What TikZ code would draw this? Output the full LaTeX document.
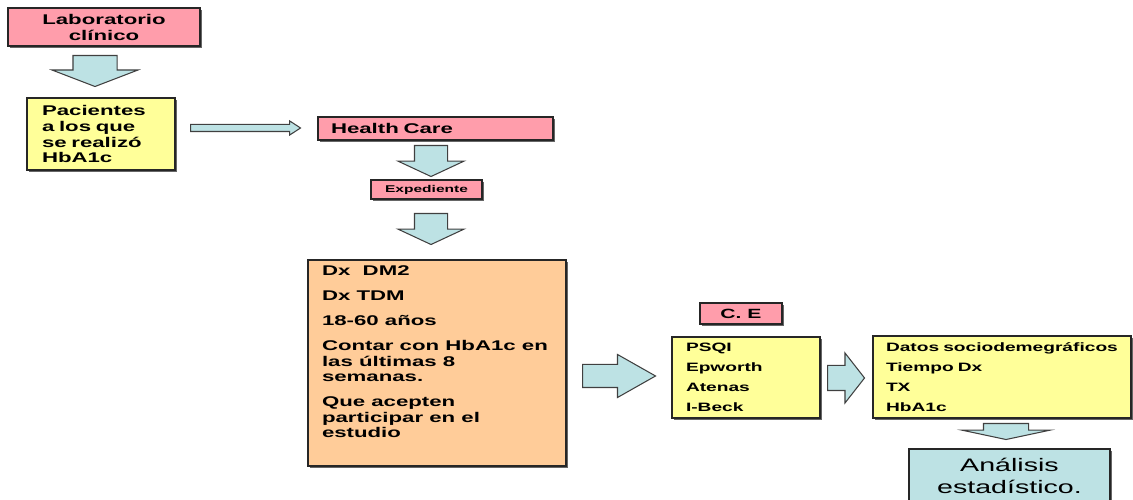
\documentclass[tikz,border=0pt]{standalone}
\usepackage{fontspec}
\setmainfont[FakeStretch=1.58]{Liberation Sans}
\usepackage{xcolor}
\usetikzlibrary{shapes.arrows,shadows}

\definecolor{boxpink}{HTML}{FF9DAB}
\definecolor{boxyellow}{HTML}{FFFF99}
\definecolor{boxpeach}{HTML}{FFCC99}
\definecolor{arrowblue}{HTML}{BDE2E4}

\tikzset{
  box/.style={draw=black!85, line width=0.8pt, inner sep=0pt,
    drop shadow={shadow xshift=0.9pt, shadow yshift=-0.9pt, fill=black!60, opacity=1}},
  pinkbox/.style={box, fill=boxpink},
  yellowbox/.style={box, fill=boxyellow},
  fatarrow/.style={single arrow, draw=black!75, line width=0.6pt, fill=arrowblue,
    inner xsep=0pt, anchor=tail},
  mainfont/.style={font=\bfseries\fontsize{8}{9.1}\selectfont},
  listfont/.style={font=\bfseries\fontsize{6.9}{11.4}\selectfont}
}

\begin{document}
\begin{tikzpicture}
  \useasboundingbox (0,0) rectangle (22.66,10);

  % first column
  \node[pinkbox, mainfont, minimum width=3.84cm, minimum height=0.76cm, align=center]
    (lab) at (2.08,9.46) {Laboratorio\\clínico};
  \node[fatarrow, rotate=-90, minimum height=0.62cm, inner ysep=0.43cm,
    single arrow head extend=0.42cm, single arrow tip angle=138] (a1) at (1.9,8.9) {};
  \node[yellowbox, mainfont, minimum width=2.96cm, minimum height=1.44cm,
    text width=2.36cm, inner xsep=0.3cm, align=left]
    (pac) at (2.02,7.32) {Pacientes\\a los que\\se realizó\\HbA1c};
  \node[fatarrow, minimum height=2.2cm, inner ysep=0.06cm,
    single arrow head extend=0.07cm, single arrow tip angle=66] (a2) at (3.8,7.44) {};

  % middle column
  \node[pinkbox, mainfont, minimum width=4.7cm, minimum height=0.46cm,
    text width=4.18cm, inner xsep=0.26cm, align=left]
    (hc) at (8.71,7.43) {Health Care};
  \node[fatarrow, rotate=-90, minimum height=0.62cm, inner ysep=0.32cm,
    single arrow head extend=0.33cm, single arrow tip angle=130] (a3) at (8.62,7.1) {};
  \node[pinkbox, font=\bfseries\fontsize{5.6}{6.5}\selectfont,
    minimum width=2.22cm, minimum height=0.38cm] (exp) at (8.53,6.21) {Expediente};
  \node[fatarrow, rotate=-90, minimum height=0.62cm, inner ysep=0.32cm,
    single arrow head extend=0.33cm, single arrow tip angle=130] (a4) at (8.62,5.74) {};
  \node[box, fill=boxpeach, mainfont, minimum width=5.16cm, minimum height=4.12cm,
    inner xsep=0.28cm, inner ysep=0.12cm] (dx) at (8.74,2.74)
    {\parbox[c][3.88cm][t]{4.6cm}{\raggedright\fontsize{8}{8.8}\selectfont\setlength{\parskip}{5.4pt}%
      Dx\ \ DM2\par
      Dx TDM\par
      18-60 años\par
      Contar con HbA1c en\\las últimas 8\\semanas.\par
      Que acepten\\participar en el\\estudio\par}};
  \node[fatarrow, minimum height=1.46cm, inner ysep=0.22cm,
    single arrow head extend=0.2cm, single arrow tip angle=59] (a5) at (11.64,2.48) {};

  % right part
  \node[pinkbox, font=\bfseries\fontsize{7.6}{9}\selectfont,
    minimum width=1.64cm, minimum height=0.42cm] (ce) at (14.82,3.73) {C. E};
  \node[yellowbox, listfont, minimum width=2.96cm, minimum height=1.62cm,
    text width=2.4cm, inner xsep=0.28cm, align=left]
    (psqi) at (14.92,2.45) {PSQI\\Epworth\\Atenas\\I-Beck};
  \node[fatarrow, minimum height=0.74cm, inner ysep=0.24cm,
    single arrow head extend=0.25cm, single arrow tip angle=104] (a6) at (16.54,2.44) {};
  \node[yellowbox, listfont, minimum width=5.16cm, minimum height=1.64cm,
    text width=4.64cm, inner xsep=0.26cm, align=left]
    (datos) at (20.04,2.46) {Datos sociodemegráficos\\Tiempo Dx\\TX\\HbA1c};
  \node[fatarrow, rotate=-90, minimum height=0.32cm, inner ysep=0.44cm,
    single arrow head extend=0.43cm, single arrow tip angle=156] (a7) at (20.12,1.54) {};
  \node[box, fill=arrowblue, font=\fontsize{10.3}{12.5}\selectfont,
    minimum width=4.02cm, minimum height=1.06cm, align=center]
    (anal) at (20.19,0.49) {Análisis\\estadístico.};
\end{tikzpicture}
\end{document}
